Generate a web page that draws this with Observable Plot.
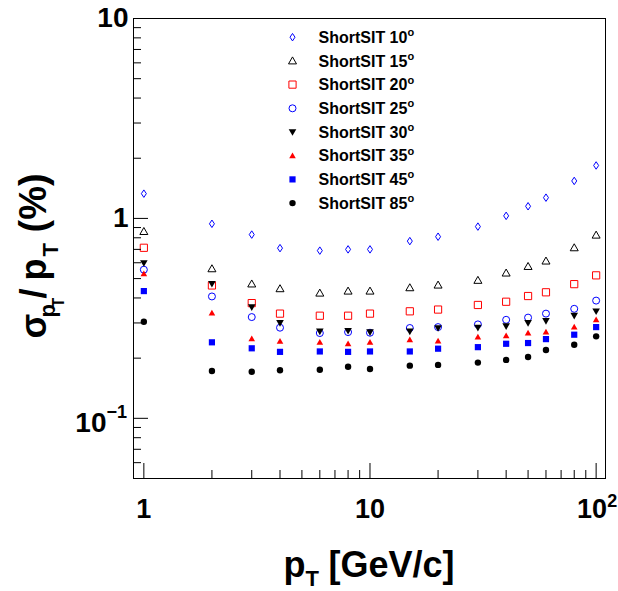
<!DOCTYPE html>
<html><head><meta charset="utf-8">
<script src="https://cdn.jsdelivr.net/npm/d3@7"></script>
<script src="https://cdn.jsdelivr.net/npm/@observablehq/plot@0.6"></script>
<style>body{margin:0;background:#fff}</style>
</head><body><div id="chart"></div>
<script>
// ---- data ----
const pt = [1, 2, 3, 4, 6, 8, 10, 15, 20, 30, 40, 50, 60, 80, 100];
const angles = ["10", "15", "20", "25", "30", "35", "45", "85"];
const s10 = [1.33, 0.94, 0.83, 0.71, 0.69, 0.70, 0.70, 0.77, 0.81, 0.91, 1.03, 1.15, 1.27, 1.54, 1.84];
const s15 = [0.86, 0.56, 0.47, 0.445, 0.423, 0.433, 0.433, 0.45, 0.464, 0.49, 0.533, 0.575, 0.612, 0.713, 0.825];
const s20 = [0.713, 0.462, 0.377, 0.334, 0.326, 0.326, 0.334, 0.343, 0.35, 0.369, 0.383, 0.409, 0.427, 0.469, 0.519];
const s25 = [0.554, 0.407, 0.321, 0.284, 0.267, 0.270, 0.268, 0.283, 0.286, 0.295, 0.311, 0.319, 0.334, 0.353, 0.388];
const s30 = [0.598, 0.471, 0.360, 0.300, 0.272, 0.274, 0.270, 0.272, 0.283, 0.284, 0.289, 0.300, 0.307, 0.326, 0.343];
const s35 = [0.529, 0.336, 0.250, 0.243, 0.240, 0.236, 0.240, 0.247, 0.2435, 0.255, 0.259, 0.267, 0.270, 0.286, 0.311];
const s45 = [0.433, 0.240, 0.224, 0.215, 0.216, 0.215, 0.216, 0.216, 0.223, 0.227, 0.236, 0.238, 0.249, 0.262, 0.286];
const s85 = [0.304, 0.1725, 0.171, 0.174, 0.175, 0.181, 0.1765, 0.1834, 0.185, 0.190, 0.196, 0.2025, 0.2197, 0.2335, 0.257];
const seriesValues = [s10, s15, s20, s25, s30, s35, s45, s85];

const yMajor = [0.1, 1, 10];
const yMinor = [0.06, 0.07, 0.08, 0.09, 0.2, 0.3, 0.4, 0.5, 0.6, 0.7, 0.8, 0.9, 2, 3, 4, 5, 6, 7, 8, 9];
const xMajor = [1, 10, 100];
const xMinor = [2, 3, 4, 5, 6, 7, 8, 9, 20, 30, 40, 50, 60, 70, 80, 90];
const yPlainLabels = [{v: 10, t: "10"}, {v: 1, t: "1"}];
const yExpLabels = [{v: 0.1, base: "10", exp: "\u22121"}];
const xPlainLabels = [{v: 1, t: "1"}, {v: 10, t: "10"}];
const xExpLabels = [{v: 100, base: "10", exp: "2"}];

// ---- marker shapes ----
const sym = f => ({draw(ctx, size) { f(ctx, Math.sqrt(size / Math.PI)); }});
const diamond = sym((c, r) => { c.moveTo(0, -1.5 * r); c.lineTo(r, 0); c.lineTo(0, 1.5 * r); c.lineTo(-r, 0); c.closePath(); });
const triUp = sym((c, r) => { c.moveTo(0, -r); c.lineTo(r, 0.75 * r); c.lineTo(-r, 0.75 * r); c.closePath(); });
const triDown = sym((c, r) => { c.moveTo(0, r); c.lineTo(r, -0.75 * r); c.lineTo(-r, -0.75 * r); c.closePath(); });
const square = sym((c, r) => { c.rect(-r, -r, 2 * r, 2 * r); });
const circle = sym((c, r) => { c.moveTo(r, 0); c.arc(0, 0, r, 0, 2 * Math.PI); });

const styles = [
  {symbol: diamond, r: 2.5, fill: "none", stroke: "#0000ff", strokeWidth: 1},
  {symbol: triUp, r: 4, fill: "none", stroke: "#000", strokeWidth: 1},
  {symbol: square, r: 3.6, fill: "none", stroke: "#ff0000", strokeWidth: 1},
  {symbol: circle, r: 3.5, fill: "none", stroke: "#0000ff", strokeWidth: 1},
  {symbol: triDown, r: 3.8, fill: "#000", stroke: "none"},
  {symbol: triUp, r: 3.3, fill: "#ff0000", stroke: "none"},
  {symbol: square, r: 3.1, fill: "#0000ff", stroke: "none"},
  {symbol: circle, r: 3.2, fill: "#000", stroke: "none"}
];

const W = 618, H = 591, ML = 133, MR = 13, MT = 18, MB = 113;
const FW = W - ML - MR, FH = H - MT - MB;
const font = {fontFamily: "Liberation Sans, Arial, sans-serif", fontWeight: "bold", fill: "#000"};

const marks = [];
// data series
seriesValues.forEach((vals, i) => {
  const rows = pt.map((p, j) => ({pt: p, v: vals[j]}));
  marks.push(Plot.dot(rows, {x: "pt", y: "v", ...styles[i]}));
});
// frame and ticks
marks.push(Plot.frame({stroke: "#000", strokeWidth: 1}));
marks.push(Plot.tickY(yMajor, {y: d => d, insetRight: FW - 15, stroke: "#000"}));
marks.push(Plot.tickY(yMinor, {y: d => d, insetRight: FW - 8, stroke: "#000"}));
marks.push(Plot.tickX(xMajor, {x: d => d, insetTop: FH - 15, stroke: "#000"}));
marks.push(Plot.tickX(xMinor, {x: d => d, insetTop: FH - 8, stroke: "#000"}));
// y tick labels
marks.push(Plot.text(yPlainLabels, {y: "v", text: "t", frameAnchor: "left", dx: -5, textAnchor: "end", lineAnchor: "middle", fontSize: 28, ...font}));
marks.push(Plot.text(yExpLabels, {y: "v", text: "base", frameAnchor: "left", dx: -27, dy: 5, textAnchor: "end", lineAnchor: "middle", fontSize: 28, ...font}));
marks.push(Plot.text(yExpLabels, {y: "v", text: "exp", frameAnchor: "left", dx: -27, dy: 0, textAnchor: "start", lineAnchor: "bottom", fontSize: 18, ...font}));
// x tick labels
marks.push(Plot.text(xPlainLabels, {x: "v", text: "t", frameAnchor: "bottom", dy: 31, textAnchor: "middle", lineAnchor: "middle", fontSize: 27, ...font}));
marks.push(Plot.text(xExpLabels, {x: "v", text: "base", frameAnchor: "bottom", dx: 11, dy: 31, textAnchor: "end", lineAnchor: "middle", fontSize: 27, ...font}));
marks.push(Plot.text(xExpLabels, {x: "v", text: "exp", frameAnchor: "bottom", dx: 11, dy: 28, textAnchor: "start", lineAnchor: "bottom", fontSize: 18, ...font}));
// x title: p_T [GeV/c]
const xt = (t, dx, dy, fs) => Plot.text([t], {text: d => d, frameAnchor: "bottom-left", dx, dy, textAnchor: "start", lineAnchor: "bottom", fontSize: fs, ...font});
marks.push(xt("p", 150, 98, 36), xt("T", 172, 107, 22), xt("[GeV/c]", 195, 98, 36));
// y title: sigma_{p_T}/p_T (%)
const yt = (t, dx, dy, fs) => Plot.text([t], {text: d => d, frameAnchor: "top-left", dx, dy, rotate: -90, textAnchor: "start", lineAnchor: "bottom", fontSize: fs, ...font});
marks.push(
  yt("\u03c3", -88, 320, 36),
  yt("p", -79, 299, 22),
  yt("T", -70, 289, 16),
  yt("/", -88, 280, 36),
  yt("p", -88, 262, 36),
  yt("T", -76, 238, 22),
  yt("(%)", -88, 214, 38)
);
// legend
angles.forEach((a, i) => {
  const {symbol, r, fill, stroke, strokeWidth} = styles[i];
  marks.push(Plot.dot([a], {frameAnchor: "top-left", dx: 159, dy: 18.7 + 23.7 * i, symbol, r, fill, stroke, strokeWidth}));
  marks.push(Plot.text([a], {text: d => "ShortSIT " + d, frameAnchor: "top-left", dx: 185, dy: 24.3 + 23.7 * i, textAnchor: "start", lineAnchor: "bottom", fontSize: 16, ...font}));
  marks.push(Plot.text(["o"], {text: d => d, frameAnchor: "top-left", dx: 274, dy: 17.7 + 23.7 * i, textAnchor: "start", lineAnchor: "bottom", fontSize: 11, ...font}));
});

const chart = Plot.plot({
  width: W, height: H,
  marginLeft: ML, marginRight: MR, marginTop: MT, marginBottom: MB,
  style: {background: "#fff"},
  x: {type: "log", domain: [0.9, 110], axis: null},
  y: {type: "log", domain: [0.05, 10], axis: null},
  marks
});
document.getElementById("chart").appendChild(chart);
</script>
</body></html>
